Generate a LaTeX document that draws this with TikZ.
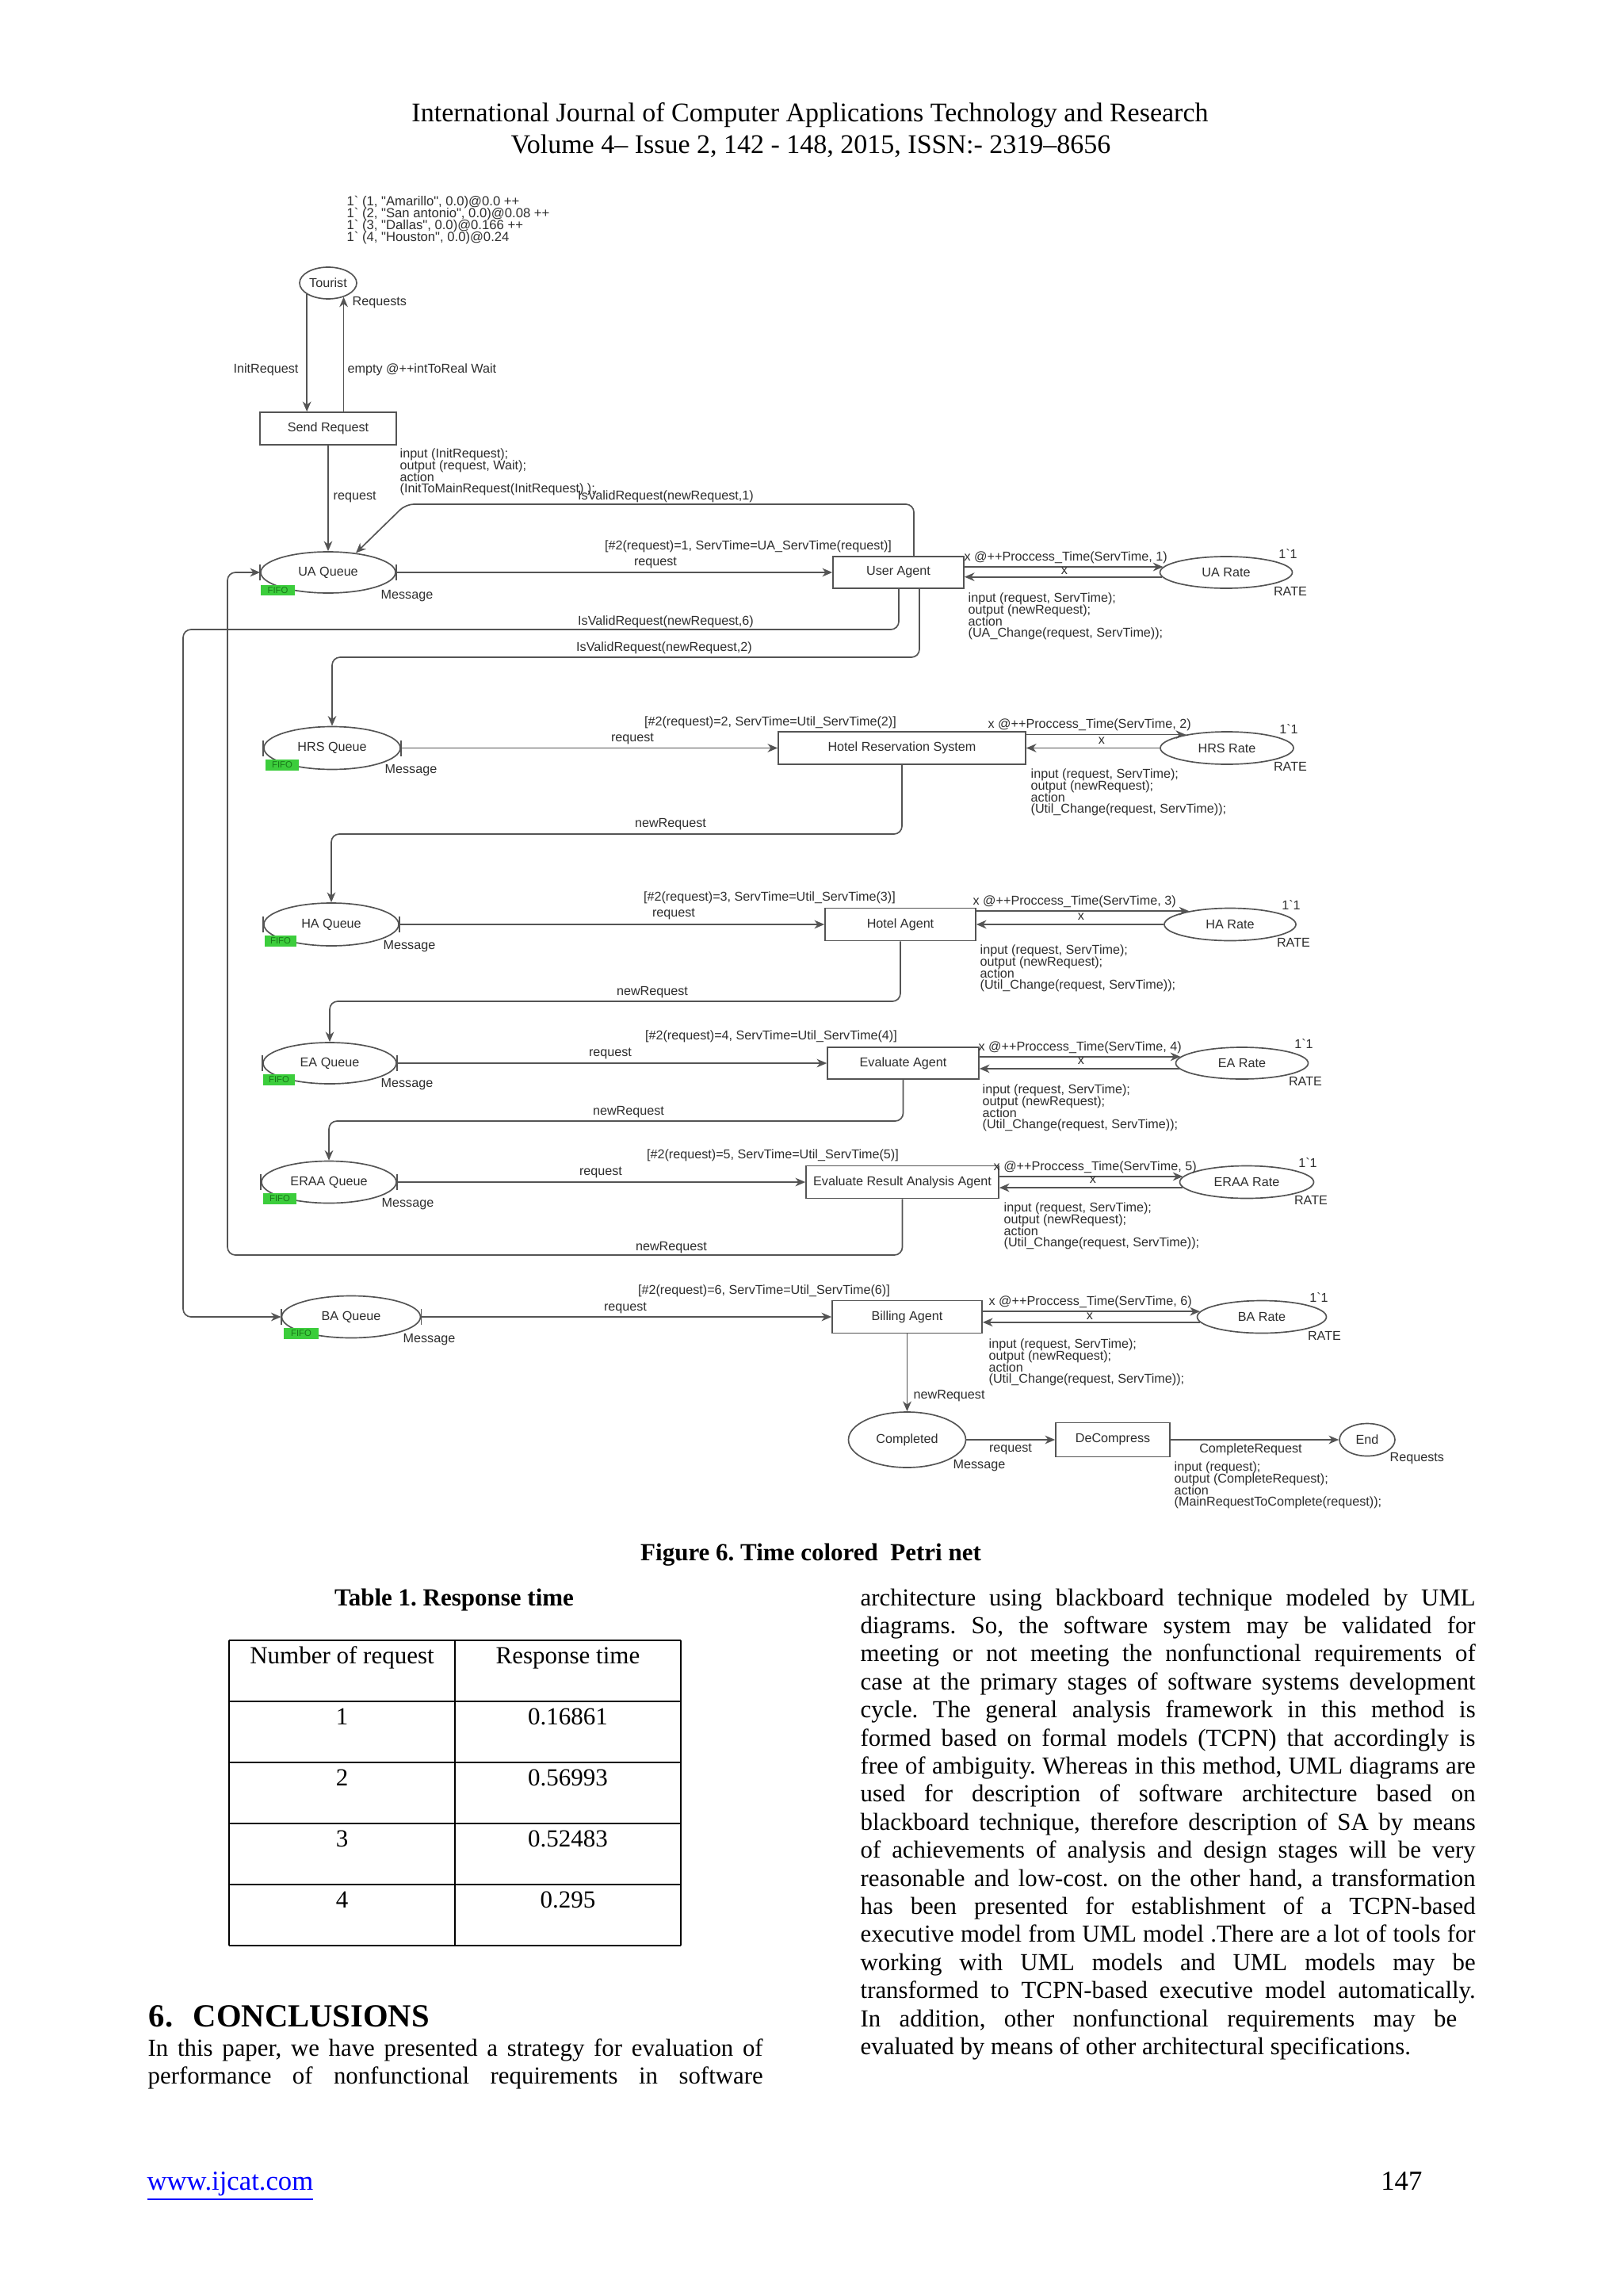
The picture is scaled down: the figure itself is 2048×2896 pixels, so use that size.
\documentclass[tikz,border=0pt]{standalone}
\usepackage{fontspec}
\setmainfont{Liberation Serif}
\newfontfamily\cpnfont{Liberation Sans}
\usetikzlibrary{arrows.meta,shapes.geometric}
\definecolor{cpnline}{gray}{0.33}
\definecolor{cpntext}{gray}{0.18}
\definecolor{fifogreen}{RGB}{60,205,60}
\definecolor{fifotext}{RGB}{25,120,25}
\definecolor{linkblue}{RGB}{0,0,255}
\newcommand{\cpnsize}{\fontsize{4.85}{4.45}\selectfont\lineskiplimit=-5pt\lineskip=0pt\relax}
\newcommand{\marksize}{\fontsize{5}{4.45}\selectfont\lineskiplimit=-5pt\lineskip=0pt\relax}
\frenchspacing
\begin{document}
\begin{tikzpicture}[x=0.3pt,y=-0.3pt,
  psize/.style 2 args={minimum width=#1*0.3pt, minimum height=#2*0.3pt},
  cpnplace/.style={ellipse, draw=cpnline, line width=0.5pt, inner sep=0pt, font=\cpnfont\cpnsize, text=cpntext},
  cpntrans/.style={rectangle, draw=cpnline, line width=0.5pt, inner sep=0pt, font=\cpnfont\cpnsize, text=cpntext},
  cpnarc/.style={draw=cpnline, line width=0.5pt, -{Stealth[length=3.8pt,width=3.2pt,inset=1.2pt]}},
  cpnlbl/.style={font=\cpnfont\cpnsize, text=cpntext, inner sep=0pt},
  cpncode/.style={cpnlbl, align=left, anchor=north west},
  markcode/.style={cpncode, font=\cpnfont\marksize},
  qbar/.style={draw=cpnline, line width=0.5pt},
  fifo/.style={fill=fifogreen, inner sep=0pt, font=\cpnfont\fontsize{3.4}{3.4}\selectfont, text=fifotext},
  hdr/.style={font=\fontsize{10.2}{12}\selectfont, inner sep=0pt, anchor=base},
  capt/.style={font=\fontsize{9.3}{11}\selectfont\bfseries, inner sep=0pt, anchor=base},
  cell/.style={font=\fontsize{9.3}{11}\selectfont, inner sep=0pt, anchor=base},
  body/.style={font=\fontsize{9.25}{10.6}\selectfont\frenchspacing, inner sep=0pt, anchor=base west},
  tabline/.style={draw=black, line width=0.8pt}
]
\fill[white] (0,0) rectangle (2048,2896);
\useasboundingbox (0,0) rectangle (2048,2896);

% ---------- header ----------
\node[hdr] (h1) at (1022,154) {International Journal of Computer Applications Technology and Research};
\node[hdr] (h2) at (1023,194) {Volume 4– Issue 2, 142 - 148, 2015, ISSN:- 2319–8656};

% ---------- places and transitions ----------
\node[cpnplace, psize={72}{40}] (Tourist) at (414,357) {Tourist};
\node[cpntrans, psize={172}{41}] (SendReq) at (414,540.5) {Send Request};
\node[cpnplace, psize={170}{52}] (UAQ) at (414,722) {UA Queue};
\node[cpntrans, psize={165}{40}] (UA) at (1133.5,722) {User Agent};
\node[cpnplace, psize={167}{40}] (UARate) at (1547,722) {UA Rate};
\node[cpnplace, psize={172}{54}] (HRSQ) at (419,943.5) {HRS Queue};
\node[cpntrans, psize={312}{41}] (HRS) at (1138,943.5) {Hotel Reservation System};
\node[cpnplace, psize={168}{41}] (HRSRate) at (1548,943.5) {HRS Rate};
\node[cpnplace, psize={170}{54}] (HAQ) at (418,1166) {HA Queue};
\node[cpntrans, psize={190}{41}] (HA) at (1136,1166) {Hotel Agent};
\node[cpnplace, psize={166}{41}] (HARate) at (1552,1166) {HA Rate};
\node[cpnplace, psize={168}{52}] (EAQ) at (416,1341) {EA Queue};
\node[cpntrans, psize={191}{40}] (EA) at (1139.5,1341) {Evaluate Agent};
\node[cpnplace, psize={167}{40}] (EARate) at (1567,1341) {EA Rate};
\node[cpnplace, psize={170}{53}] (ERAAQ) at (415,1491) {ERAA Queue};
\node[cpntrans, psize={243}{41}] (ERAA) at (1138.5,1491) {Evaluate Result Analysis Agent};
\node[cpnplace, psize={169}{41}] (ERAARate) at (1573,1491) {ERAA Rate};
\node[cpnplace, psize={175}{53}] (BAQ) at (443,1661) {BA Queue};
\node[cpntrans, psize={189}{41}] (BA) at (1144.5,1661) {Billing Agent};
\node[cpnplace, psize={163}{41}] (BARate) at (1592,1661) {BA Rate};
\node[cpnplace, psize={148}{70}] (Completed) at (1144.5,1816) {Completed};
\node[cpntrans, psize={144}{43}] (DeCompress) at (1404,1816) {DeCompress};
\node[cpnplace, psize={70}{41}] (End) at (1725,1816) {End};

\foreach \q in {UAQ,HRSQ,HAQ,EAQ,ERAAQ,BAQ}{
  \draw[qbar] ([yshift=-3pt]\q.west) -- ([yshift=3pt]\q.west);
  \draw[qbar] ([yshift=-3pt]\q.east) -- ([yshift=3pt]\q.east);
}

% FIFO tags
\node[fifo, psize={43}{13}] (f1) at (350.5,744.5) {FIFO};
\node[fifo, psize={42}{14}] (f2) at (356,965) {FIFO};
\node[fifo, psize={40}{14}] (f3) at (354,1187) {FIFO};
\node[fifo, psize={40}{14}] (f4) at (352,1362) {FIFO};
\node[fifo, psize={42}{14}] (f5) at (353,1512) {FIFO};
\node[fifo, psize={44}{14}] (f6) at (380,1682) {FIFO};

% ---------- waypoints ----------
\coordinate (w1a) at (1153,636);
\coordinate (w1b) at (512,636);
\coordinate (w6a) at (1134,794);
\coordinate (w6b) at (231,794);
\coordinate (w2a) at (1160,829);
\coordinate (w3) at (0,1052);
\coordinate (w4) at (0,1263);
\coordinate (w5) at (0,1414);
\coordinate (w7a) at (287,1583);

% ---------- arcs ----------
\draw[cpnarc] (Tourist.208) -- (Tourist.208 |- SendReq.north);
\draw[cpnarc] (SendReq.north -| Tourist.318) -- (Tourist.318);
\draw[cpnarc] (SendReq) -- (UAQ);
\draw[cpnarc, rounded corners=3pt] (UA.north -| w1a) -- (w1a) -- (w1b) -- (UAQ.35);
\draw[cpnarc] (UAQ) -- (UA);
\draw[cpnarc] (UA.east |- UARate.175) -- (UARate.175);
\draw[cpnarc] (UARate.184) -- (UA.east |- UARate.184);
\draw[cpnarc, rounded corners=3pt] (UA.south -| w6a) -- (w6a) -- (w6b) -- (w6b |- BAQ.west) -- (BAQ.west);
\draw[cpnarc, rounded corners=3pt] (UA.south -| w2a) -- (w2a) -- (HRSQ.north |- w2a) -- (HRSQ.north);

\draw[cpnarc] (HRSQ) -- (HRS);
\draw[cpnarc] (HRS.east |- HRSRate.162) -- (HRSRate.162);
\draw[cpnarc] (HRSRate) -- (HRS);
\draw[cpnarc, rounded corners=3pt] (HRS.south) -- (HRS.south |- w3) -- (HAQ.north |- w3) -- (HAQ.north);

\draw[cpnarc] (HAQ) -- (HA);
\draw[cpnarc] (HA.east |- HARate.162) -- (HARate.162);
\draw[cpnarc] (HARate) -- (HA);
\draw[cpnarc, rounded corners=3pt] (HA.south) -- (HA.south |- w4) -- (EAQ.north |- w4) -- (EAQ.north);

\draw[cpnarc] (EAQ) -- (EA);
\draw[cpnarc] (EA.east |- EARate.174) -- (EARate.174);
\draw[cpnarc] (EARate.185) -- (EA.east |- EARate.185);
\draw[cpnarc, rounded corners=3pt] (EA.south) -- (EA.south |- w5) -- (ERAAQ.north |- w5) -- (ERAAQ.north);

\draw[cpnarc] (ERAAQ) -- (ERAA);
\draw[cpnarc] (ERAA.east |- ERAARate.175) -- (ERAARate.175);
\draw[cpnarc] (ERAARate.185) -- (ERAA.east |- ERAARate.185);
\draw[cpnarc, rounded corners=3pt] (ERAA.south) -- (ERAA.south |- w7a) -- (w7a) -- (w7a |- UAQ.west) -- (UAQ.west);

\draw[cpnarc] (BAQ) -- (BA);
\draw[cpnarc] (BA.east |- BARate.175) -- (BARate.175);
\draw[cpnarc] (BARate.185) -- (BA.east |- BARate.185);
\draw[cpnarc] (BA) -- (Completed);
\draw[cpnarc] (Completed) -- (DeCompress);
\draw[cpnarc] (DeCompress) -- (End);

% ---------- inscriptions ----------
\node[markcode] (mark) at (437,247) {1\textasciigrave{} (1, "Amarillo", 0.0)@0.0 ++\\1\textasciigrave{} (2, "San antonio", 0.0)@0.08 ++\\1\textasciigrave{} (3, "Dallas", 0.0)@0.166 ++\\1\textasciigrave{} (4, "Houston", 0.0)@0.24};
\node[cpnlbl, anchor=west] (lReq) at (444,382) {Requests};
\node[cpnlbl, anchor=east] (lInit) at (377,466) {InitRequest};
\node[cpnlbl, anchor=west] (lEmpty) at (438,466) {empty @++intToReal Wait};
\node[cpnlbl, anchor=west] (lSR) at (420,627) {request};
\node[cpncode] (cSR) at (504,565) {input (InitRequest);\\output (request, Wait);\\action\\(InitToMainRequest(InitRequest) );};
\node[cpnlbl] (lV1) at (840,626) {IsValidRequest(newRequest,1)};
\node[cpnlbl] (lV6) at (840,784) {IsValidRequest(newRequest,6)};
\node[cpnlbl] (lV2) at (838,817) {IsValidRequest(newRequest,2)};

% UA row
\node[cpnlbl] (gUA) at (944,689) {[\#2(request)=1, ServTime=UA\_ServTime(request)]};
\node[cpnlbl] (rUA) at (827,710) {request};
\node[cpnlbl, anchor=west] (mUA) at (480,752) {Message};
\node[cpnlbl, anchor=west] (pUA) at (1216,703) {x @++Proccess\_Time(ServTime, 1)};
\node[cpnlbl] (xUA) at (1343,720) {x};
\node[cpnlbl] (iUA) at (1625,699) {1\textasciigrave 1};
\node[cpnlbl] (RUA) at (1628,746) {RATE};
\node[cpncode] (cUA) at (1221,747) {input (request, ServTime);\\output (newRequest);\\action\\(UA\_Change(request, ServTime));};

% HRS row
\node[cpnlbl] (gHRS) at (972,911) {[\#2(request)=2, ServTime=Util\_ServTime(2)]};
\node[cpnlbl] (rHRS) at (798,932) {request};
\node[cpnlbl, anchor=west] (mHRS) at (485,972) {Message};
\node[cpnlbl, anchor=west] (pHRS) at (1246,914) {x @++Proccess\_Time(ServTime, 2)};
\node[cpnlbl] (xHRS) at (1390,934) {x};
\node[cpnlbl] (iHRS) at (1626,920) {1\textasciigrave 1};
\node[cpnlbl] (RHRS) at (1628,967) {RATE};
\node[cpncode] (cHRS) at (1300,969) {input (request, ServTime);\\output (newRequest);\\action\\(Util\_Change(request, ServTime));};
\node[cpnlbl] (nHRS) at (846,1040) {newRequest};

% HA row
\node[cpnlbl] (gHA) at (971,1132) {[\#2(request)=3, ServTime=Util\_ServTime(3)]};
\node[cpnlbl] (rHA) at (850,1153) {request};
\node[cpnlbl, anchor=west] (mHA) at (483,1194) {Message};
\node[cpnlbl, anchor=west] (pHA) at (1227,1137) {x @++Proccess\_Time(ServTime, 3)};
\node[cpnlbl] (xHA) at (1364,1156) {x};
\node[cpnlbl] (iHA) at (1629,1142) {1\textasciigrave 1};
\node[cpnlbl] (RHA) at (1632,1189) {RATE};
\node[cpncode] (cHA) at (1236,1191) {input (request, ServTime);\\output (newRequest);\\action\\(Util\_Change(request, ServTime));};
\node[cpnlbl] (nHA) at (823,1252) {newRequest};

% EA row
\node[cpnlbl] (gEA) at (973,1307) {[\#2(request)=4, ServTime=Util\_ServTime(4)]};
\node[cpnlbl] (rEA) at (770,1329) {request};
\node[cpnlbl, anchor=west] (mEA) at (480,1368) {Message};
\node[cpnlbl, anchor=west] (pEA) at (1234,1321) {x @++Proccess\_Time(ServTime, 4)};
\node[cpnlbl] (xEA) at (1364,1338) {x};
\node[cpnlbl] (iEA) at (1645,1317) {1\textasciigrave 1};
\node[cpnlbl] (REA) at (1647,1364) {RATE};
\node[cpncode] (cEA) at (1239,1367) {input (request, ServTime);\\output (newRequest);\\action\\(Util\_Change(request, ServTime));};
\node[cpnlbl] (nEA) at (793,1403) {newRequest};

% ERAA row
\node[cpnlbl] (gERAA) at (975,1457) {[\#2(request)=5, ServTime=Util\_ServTime(5)]};
\node[cpnlbl] (rERAA) at (758,1479) {request};
\node[cpnlbl, anchor=west] (mERAA) at (481,1519) {Message};
\node[cpnlbl, anchor=west] (pERAA) at (1253,1472) {x @++Proccess\_Time(ServTime, 5)};
\node[cpnlbl] (xERAA) at (1379,1488) {x};
\node[cpnlbl] (iERAA) at (1650,1467) {1\textasciigrave 1};
\node[cpnlbl] (RERAA) at (1654,1514) {RATE};
\node[cpncode] (cERAA) at (1266,1516) {input (request, ServTime);\\output (newRequest);\\action\\(Util\_Change(request, ServTime));};
\node[cpnlbl] (nERAA) at (847,1574) {newRequest};

% BA row
\node[cpnlbl] (gBA) at (964,1628) {[\#2(request)=6, ServTime=Util\_ServTime(6)]};
\node[cpnlbl] (rBA) at (789,1650) {request};
\node[cpnlbl, anchor=west] (mBA) at (508,1690) {Message};
\node[cpnlbl, anchor=west] (pBA) at (1247,1642) {x @++Proccess\_Time(ServTime, 6)};
\node[cpnlbl] (xBA) at (1375,1660) {x};
\node[cpnlbl] (iBA) at (1664,1637) {1\textasciigrave 1};
\node[cpnlbl] (RBA) at (1671,1685) {RATE};
\node[cpncode] (cBA) at (1247,1688) {input (request, ServTime);\\output (newRequest);\\action\\(Util\_Change(request, ServTime));};
\node[cpnlbl, anchor=west] (nBA) at (1152,1761) {newRequest};

% bottom
\node[cpnlbl] (rC) at (1275,1828) {request};
\node[cpnlbl, anchor=west] (mC) at (1202,1849) {Message};
\node[cpnlbl] (lCR) at (1578,1828) {CompleteRequest};
\node[cpnlbl, anchor=west] (lEnd) at (1753,1840) {Requests};
\node[cpncode] (cDC) at (1481,1843) {input (request);\\output (CompleteRequest);\\action\\(MainRequestToComplete(request));};

% ---------- captions ----------
\node[capt] (figcap) at (1023,1968) {Figure 6. Time colored\ \ Petri net};
\node[capt] (tabcap) at (573,2025) {Table 1. Response time};

% ---------- table ----------
\foreach \yy in {2069,2146,2223,2300,2377,2454}{\draw[tabline] (289,\yy) -- (859,\yy);}
\foreach \xx in {289,574,859}{\draw[tabline] (\xx,2069) -- (\xx,2454);}
\node[cell] (t11) at (431.5,2098) {Number of request};
\node[cell] (t12) at (716.5,2098) {Response time};
\node[cell] (t21) at (431.5,2175) {1};
\node[cell] (t22) at (716.5,2175) {0.16861};
\node[cell] (t31) at (431.5,2252) {2};
\node[cell] (t32) at (716.5,2252) {0.56993};
\node[cell] (t41) at (431.5,2329) {3};
\node[cell] (t42) at (716.5,2329) {0.52483};
\node[cell] (t51) at (431.5,2406) {4};
\node[cell] (t52) at (716.5,2406) {0.295};

% ---------- conclusions ----------
\node[anchor=base west, inner sep=0pt, font=\fontsize{12.2}{14}\selectfont\bfseries] (sec6) at (187,2556) {6.};
\node[anchor=base west, inner sep=0pt, font=\fontsize{12.2}{14}\selectfont\bfseries] (secT) at (243,2556) {CONCLUSIONS};
\node[body] (lc1) at (186,2593) {\makebox[232.8pt][s]{In this paper, we have presented a strategy for evaluation of}};
\node[body] (lc2) at (186,2628.4) {\makebox[232.8pt][s]{performance of nonfunctional requirements in software}};

\foreach \tline [count=\i] in {
 {architecture using blackboard technique modeled by UML},
 {diagrams. So, the software system may be validated for},
 {meeting or not meeting the nonfunctional requirements of},
 {case at the primary stages of software systems development},
 {cycle. The general analysis framework in this method is},
 {formed based on formal models (TCPN) that accordingly is},
 {free of ambiguity. Whereas in this method, UML diagrams are},
 {used for description of software architecture based on},
 {blackboard technique, therefore description of SA by means},
 {of achievements of analysis and design stages will be very},
 {reasonable and low-cost. on the other hand, a transformation},
 {has been presented for establishment of a TCPN-based},
 {executive model from UML model .There are a lot of tools for},
 {working with UML models and UML models may be},
 {transformed to TCPN-based executive model automatically.},
 {In addition, other nonfunctional requirements may be}
}{\node[body] (rc\i) at (1085,{2025+35.4*(\i-1)}) {\makebox[232.8pt][s]{\tline}};}
\node[body] (rc17) at (1085,2591.4) {evaluated by means of other architectural specifications.};

% ---------- footer ----------
\node[anchor=base west, inner sep=0pt, font=\fontsize{10.4}{12}\selectfont, text=linkblue] (url) at (185,2762) {\underline{www.ijcat.com}};
\node[anchor=base east, inner sep=0pt, font=\fontsize{10.4}{12}\selectfont] (pgno) at (1795,2762) {147};
\end{tikzpicture}
\end{document}
